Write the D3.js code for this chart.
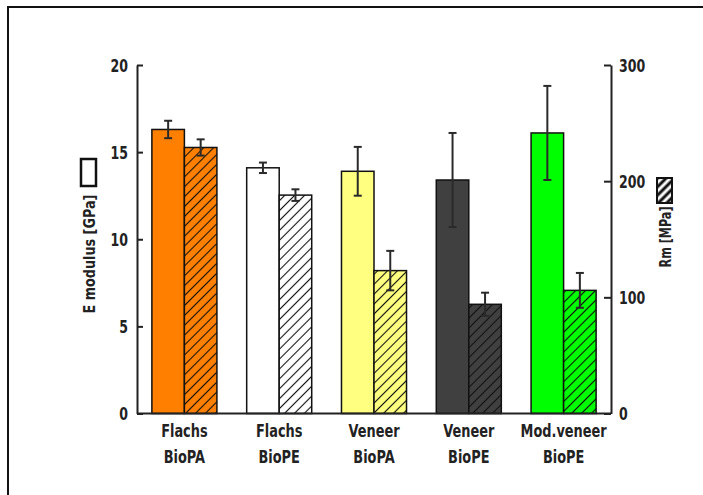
<!DOCTYPE html>
<html>
<head>
<meta charset="utf-8">
<script src="https://d3js.org/d3.v7.min.js"></script>
<style>
  body { margin: 0; background: #fff; }
  text { font-family: "DejaVu Sans", sans-serif; font-weight: bold; fill: #222; }
</style>
</head>
<body>
<script>
//chart data
var categories = ["Flachs|BioPA", "Flachs|BioPE", "Veneer|BioPA", "Veneer|BioPE", "Mod.veneer|BioPE"];
var barColors = ["#ff8000", "#ffffff", "#ffff80", "#404040", "#00ff00"];
var eModulus = [16.3, 14.1, 13.9, 13.4, 16.1];      // GPa, left axis
var eModulusErr = [0.5, 0.3, 1.4, 2.7, 2.7];
var rm = [229, 188, 123, 94, 106];                   // MPa, right axis
var rmErr = [7, 5, 17, 10, 15];
var leftTicks = [0, 5, 10, 15, 20];
var rightTicks = [0, 100, 200, 300];

var width = 703,
    height = 495;

var svg = d3.select("body")
    .append("svg")
    .attr("width", width)
    .attr("height", height);

//squeeze text horizontally to mimic a narrow typeface
function condense(sel, factor){
    sel.each(function(){
        var t = d3.select(this),
            x0 = +t.attr("x") || 0,
            tr = t.attr("transform") || "";
        t.attr("x", x0 / factor)
            .attr("transform", tr + " scale(" + factor + ",1)");
    });
}

//hatch pattern for the Rm bars
var defs = svg.append("defs");
var hatch = defs.append("pattern")
    .attr("id", "hatch")
    .attr("patternUnits", "userSpaceOnUse")
    .attr("width", 7)
    .attr("height", 7)
    .attr("patternTransform", "rotate(45)");
hatch.append("line")
    .attr("x1", 3.5).attr("y1", 0)
    .attr("x2", 3.5).attr("y2", 7)
    .attr("stroke", "#111")
    .attr("stroke-width", 1.1);

var hatchBold = defs.append("pattern")
    .attr("id", "hatchBold")
    .attr("patternUnits", "userSpaceOnUse")
    .attr("width", 6)
    .attr("height", 6)
    .attr("patternTransform", "rotate(45)");
hatchBold.append("line")
    .attr("x1", 3).attr("y1", 0)
    .attr("x2", 3).attr("y2", 6)
    .attr("stroke", "#111")
    .attr("stroke-width", 3);

//outer frame
svg.append("rect")
    .attr("x", 8)
    .attr("y", 7)
    .attr("width", 800)
    .attr("height", 600)
    .attr("fill", "none")
    .attr("stroke", "#111")
    .attr("stroke-width", 2);

//scales
var x = d3.scaleBand()
    .domain(categories)
    .range([137, 611])
    .paddingInner(0.314)
    .paddingOuter(0.157);

var yLeft = d3.scaleLinear()
    .domain([0, 20])
    .range([413.5, 65]);

var yRight = d3.scaleLinear()
    .domain([0, 300])
    .range([413.5, 65]);

var half = x.bandwidth() / 2;

//E modulus bars (solid)
svg.selectAll(".ebar")
    .data(categories)
    .enter()
    .append("rect")
    .attr("class", "ebar")
    .attr("x", function(d){ return x(d); })
    .attr("y", function(d, i){ return yLeft(eModulus[i]); })
    .attr("width", half)
    .attr("height", function(d, i){ return yLeft(0) - yLeft(eModulus[i]); })
    .attr("fill", function(d, i){ return barColors[i]; })
    .attr("stroke", "#111")
    .attr("stroke-width", 1.5);

//Rm bars: colour underneath, hatch on top
var rmGroups = svg.selectAll(".rbar")
    .data(categories)
    .enter()
    .append("g")
    .attr("class", "rbar");
rmGroups.append("rect")
    .attr("x", function(d){ return x(d) + half; })
    .attr("y", function(d, i){ return yRight(rm[i]); })
    .attr("width", half)
    .attr("height", function(d, i){ return yRight(0) - yRight(rm[i]); })
    .attr("fill", function(d, i){ return barColors[i]; });
rmGroups.append("rect")
    .attr("x", function(d){ return x(d) + half; })
    .attr("y", function(d, i){ return yRight(rm[i]); })
    .attr("width", half)
    .attr("height", function(d, i){ return yRight(0) - yRight(rm[i]); })
    .attr("fill", "url(#hatch)")
    .attr("stroke", "#111")
    .attr("stroke-width", 1.5);

//error bars
function errorBars(cls, vals, errs, yScale, offset){
    var g = svg.selectAll("." + cls)
        .data(categories)
        .enter()
        .append("g")
        .attr("class", cls)
        .attr("stroke", "#2a2a2a")
        .attr("stroke-width", 2);
    var cx = function(d){ return x(d) + offset; };
    g.append("line")
        .attr("x1", cx).attr("x2", cx)
        .attr("y1", function(d, i){ return yScale(vals[i] - errs[i]); })
        .attr("y2", function(d, i){ return yScale(vals[i] + errs[i]); });
    [-1, 1].forEach(function(s){
        g.append("line")
            .attr("x1", function(d){ return cx(d) - 4; })
            .attr("x2", function(d){ return cx(d) + 4; })
            .attr("y1", function(d, i){ return yScale(vals[i] + s * errs[i]); })
            .attr("y2", function(d, i){ return yScale(vals[i] + s * errs[i]); });
    });
}
errorBars("eerr", eModulus, eModulusErr, yLeft, half / 2);
errorBars("rerr", rm, rmErr, yRight, half * 1.5);

//axes
var leftAxis = d3.axisLeft(yLeft)
    .tickValues(leftTicks)
    .tickSizeInner(-6)
    .tickSizeOuter(0)
    .tickPadding(9);
var gl = svg.append("g")
    .attr("transform", "translate(137,0)")
    .call(leftAxis);

var rightAxis = d3.axisRight(yRight)
    .tickValues(rightTicks)
    .tickSizeInner(-7)
    .tickSizeOuter(0)
    .tickPadding(8);
var gr = svg.append("g")
    .attr("transform", "translate(611,0)")
    .call(rightAxis);

[gl, gr].forEach(function(g){
    g.attr("font-family", null).attr("font-size", null);
    g.selectAll("path, line").attr("stroke", "#222").attr("stroke-width", 2);
    g.selectAll("text")
        .attr("font-size", 17)
        .attr("fill", "#222")
        .attr("dy", "0.36em")
        .call(condense, 0.74);
});

//baseline
svg.append("line")
    .attr("x1", 137).attr("x2", 611)
    .attr("y1", yLeft(0)).attr("y2", yLeft(0))
    .attr("stroke", "#222")
    .attr("stroke-width", 2);

//category labels, two lines each
var lines = [0, 1];
lines.forEach(function(k){
    svg.selectAll(".cat" + k)
        .data(categories)
        .enter()
        .append("text")
        .attr("class", "cat" + k)
        .attr("text-anchor", "middle")
        .attr("font-size", 17)
        .attr("x", function(d){ return x(d) + half; })
        .attr("y", 437 + k * 26)
        .text(function(d){ return d.split("|")[k]; })
        .call(condense, 0.76);
});

//axis titles
svg.append("text")
    .attr("transform", "translate(95,254) rotate(-90)")
    .attr("text-anchor", "middle")
    .attr("font-size", 16)
    .text("E modulus [GPa]")
    .call(condense, 0.8);
svg.append("rect")
    .attr("x", 81).attr("y", 159)
    .attr("width", 15).attr("height", 27)
    .attr("fill", "#fff")
    .attr("stroke", "#111")
    .attr("stroke-width", 2.5);

svg.append("text")
    .attr("transform", "translate(671,237) rotate(-90)")
    .attr("text-anchor", "middle")
    .attr("font-size", 16)
    .text("Rm [MPa]")
    .call(condense, 0.7);
svg.append("rect")
    .attr("x", 657).attr("y", 178)
    .attr("width", 15).attr("height", 25)
    .attr("fill", "#fff")
    .attr("stroke", "#111")
    .attr("stroke-width", 2);
svg.append("rect")
    .attr("x", 657).attr("y", 178)
    .attr("width", 15).attr("height", 25)
    .attr("fill", "url(#hatchBold)")
    .attr("stroke", "#111")
    .attr("stroke-width", 2);
</script>
</body>
</html>
